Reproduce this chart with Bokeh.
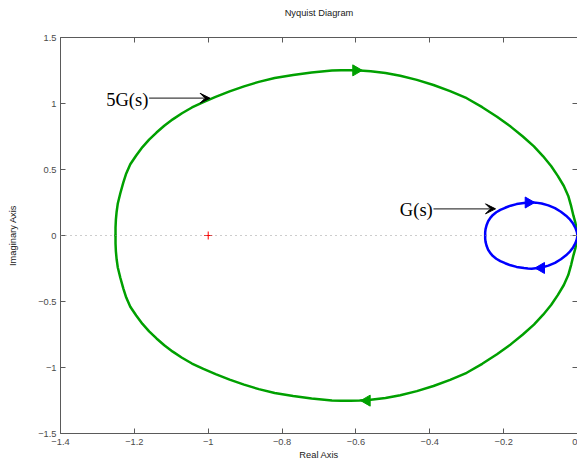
import math
from bokeh.plotting import figure
from bokeh.models import (Range1d, FixedTicker, CustomJSTickFormatter, LinearAxis,
                          Span, Arrow, VeeHead, ColumnDataSource)
from bokeh.embed import file_html
from bokeh.resources import INLINE
from bokeh.core.properties import value

# ---------------- data ----------------
x_ticks = [-1.4, -1.2, -1.0, -0.8, -0.6, -0.4, -0.2, 0.0]
y_ticks = [-1.5, -1.0, -0.5, 0.0, 0.5, 1.0, 1.5]

# 5G(jw) (green): upper branch (origin -> top -> leftmost point)
green_up_re = [0.000, -0.001, -0.003, -0.006, -0.011, -0.017, -0.025, -0.037, -0.053, -0.071,
               -0.093, -0.118, -0.148, -0.181, -0.218, -0.258, -0.300, -0.345, -0.390, -0.435,
               -0.480, -0.520, -0.560, -0.590, -0.615, -0.640, -0.665, -0.720, -0.770, -0.820,
               -0.863, -0.903, -0.942, -0.980, -1.013, -1.044, -1.071, -1.096, -1.119, -1.140,
               -1.160, -1.178, -1.195, -1.211, -1.222, -1.230, -1.238, -1.245, -1.248, -1.250,
               -1.251, -1.251]
green_up_im = [0.000, 0.030, 0.060, 0.100, 0.150, 0.220, 0.300, 0.375, 0.450, 0.525,
               0.600, 0.675, 0.750, 0.825, 0.900, 0.972, 1.040, 1.094, 1.140, 1.179,
               1.210, 1.231, 1.245, 1.250, 1.252, 1.252, 1.250, 1.235, 1.216, 1.193,
               1.164, 1.130, 1.092, 1.050, 1.011, 0.970, 0.926, 0.880, 0.831, 0.780,
               0.726, 0.670, 0.606, 0.540, 0.470, 0.400, 0.320, 0.240, 0.180, 0.120,
               0.060, 0.000]
# lower branch (leftmost point -> bottom -> origin)
green_lo_re = [-1.251, -1.251, -1.250, -1.248, -1.245, -1.238, -1.230, -1.222, -1.211, -1.195,
               -1.178, -1.160, -1.140, -1.119, -1.096, -1.071, -1.044, -1.013, -0.980, -0.942,
               -0.903, -0.863, -0.820, -0.770, -0.720, -0.665, -0.640, -0.615, -0.590, -0.560,
               -0.520, -0.480, -0.435, -0.390, -0.345, -0.300, -0.258, -0.218, -0.181, -0.148,
               -0.118, -0.093, -0.071, -0.053, -0.037, -0.025, -0.017, -0.011, -0.006, -0.003,
               -0.001, 0.000]
green_lo_im = [0.000, -0.060, -0.120, -0.180, -0.240, -0.320, -0.400, -0.470, -0.540, -0.606,
               -0.670, -0.726, -0.780, -0.831, -0.880, -0.926, -0.970, -1.011, -1.050, -1.092,
               -1.130, -1.164, -1.193, -1.216, -1.235, -1.250, -1.252, -1.252, -1.250, -1.245,
               -1.231, -1.210, -1.179, -1.140, -1.094, -1.040, -0.972, -0.900, -0.825, -0.750,
               -0.675, -0.600, -0.525, -0.450, -0.375, -0.300, -0.220, -0.150, -0.100, -0.060,
               -0.030, 0.000]

# G(jw) (blue): upper branch (origin -> top -> leftmost point)
blue_up_re = [0.000, -0.002, -0.006, -0.012, -0.020, -0.031, -0.045, -0.061, -0.079, -0.097,
              -0.113, -0.124, -0.134, -0.145, -0.165, -0.181, -0.196, -0.209, -0.220, -0.229,
              -0.236, -0.242, -0.246, -0.249, -0.250, -0.250]
blue_up_im = [0.000, 0.030, 0.060, 0.090, 0.120, 0.150, 0.180, 0.207, 0.228, 0.242,
              0.249, 0.251, 0.250, 0.247, 0.238, 0.226, 0.210, 0.194, 0.176, 0.156,
              0.134, 0.108, 0.080, 0.048, 0.024, 0.000]
# lower branch (leftmost point -> bottom -> origin)
blue_lo_re = [-0.250, -0.250, -0.249, -0.246, -0.242, -0.236, -0.229, -0.220, -0.209, -0.196,
              -0.181, -0.165, -0.145, -0.134, -0.124, -0.113, -0.097, -0.079, -0.061, -0.045,
              -0.031, -0.020, -0.012, -0.006, -0.002, 0.000]
blue_lo_im = [0.000, -0.024, -0.048, -0.080, -0.108, -0.134, -0.156, -0.176, -0.194, -0.210,
              -0.226, -0.238, -0.247, -0.250, -0.251, -0.249, -0.242, -0.228, -0.207, -0.180,
              -0.150, -0.120, -0.090, -0.060, -0.030, 0.000]

# direction arrowheads along the curves
green_arrow_re = [-0.600, -0.570]
green_arrow_im = [1.251, -1.251]
green_arrow_dir = ["right", "left"]
blue_arrow_re = [-0.133, -0.098]
blue_arrow_im = [0.250, -0.246]
blue_arrow_dir = ["right", "left"]

# critical point
crit_re = [-1.0]
crit_im = [0.0]

# text annotations with pointer arrows
note_text = ["5G(s)", "G(s)"]
note_re = [-1.162, -0.392]
note_im = [1.024, 0.190]
pointer_x0 = [-1.160, -0.390]
pointer_y0 = [1.040, 0.202]
pointer_x1 = [-0.995, -0.222]
pointer_y1 = [1.040, 0.202]

title_text = "Nyquist Diagram"

# ---------------- figure ----------------
FONT = "Liberation Sans"
AX_COLOR = "#5a5a5a"
LBL_COLOR = "#4a4a4a"
GREEN = "#00a000"
BLUE = "#0000ff"

p = figure(width=577, height=464, x_range=Range1d(-1.4, 0.0), y_range=Range1d(-1.5, 1.5),
           output_backend="svg", toolbar_location=None,
           min_border_left=60, min_border_right=0, min_border_top=37, min_border_bottom=31,
           x_axis_label="Real Axis", y_axis_label="Imaginary Axis")
p.xgrid.visible = False
p.ygrid.visible = False
p.outline_line_color = None
p.background_fill_color = "white"
p.border_fill_color = "white"

fmt = CustomJSTickFormatter(code="""
const v = Math.round(tick * 10) / 10;
const s = (Math.abs(v) < 1e-9) ? '0' : v.toString();
return s.replace('-', '\u2212');
""")
blank = CustomJSTickFormatter(code="return '';")


def style_axis(ax, ticks, formatter, labels=True):
    ax.ticker = FixedTicker(ticks=ticks)
    ax.formatter = formatter
    ax.major_tick_in = 5
    ax.major_tick_out = 0
    ax.minor_tick_in = 0
    ax.minor_tick_out = 0
    ax.axis_line_color = AX_COLOR
    ax.axis_line_width = 1
    ax.major_tick_line_color = AX_COLOR
    ax.major_label_text_font = FONT
    ax.major_label_text_font_size = "9.3px" if labels else "0px"
    ax.major_label_text_color = LBL_COLOR
    ax.axis_label_text_font = FONT
    ax.axis_label_text_font_size = "9.3px"
    ax.axis_label_text_font_style = "normal"
    ax.axis_label_text_color = "#202020"


xa = p.xaxis[0]
style_axis(xa, x_ticks, fmt)
xa.major_label_standoff = 5
xa.axis_label_standoff = 2

ya = p.yaxis[0]
style_axis(ya, y_ticks, fmt)
ya.major_label_standoff = 4
ya.axis_label_standoff = 17

# top box edge carries the chart title
top = LinearAxis(axis_label=title_text)
style_axis(top, x_ticks, blank, labels=False)
top.major_label_standoff = 0
top.axis_label_standoff = 20
p.add_layout(top, "above")

right = LinearAxis()
style_axis(right, y_ticks, blank, labels=False)
right.major_label_standoff = 0
right.axis_line_color = None
p.add_layout(right, "right")

# dotted real axis
p.add_layout(Span(location=0, dimension="width", line_color="#9a9a9a",
                  line_dash="1 4", line_width=1))

# curves
for xs, ys, c in [(green_up_re, green_up_im, GREEN), (green_lo_re, green_lo_im, GREEN),
                  (blue_up_re, blue_up_im, BLUE), (blue_lo_re, blue_lo_im, BLUE)]:
    p.line(xs, ys, line_color=c, line_width=2.5, line_join="round", line_cap="round")

ang = {"right": -math.pi / 2, "left": math.pi / 2}
p.scatter(green_arrow_re, green_arrow_im, marker="triangle", size=11,
          angle=[ang[d] for d in green_arrow_dir], fill_color=GREEN, line_color=GREEN)
p.scatter(blue_arrow_re, blue_arrow_im, marker="triangle", size=11,
          angle=[ang[d] for d in blue_arrow_dir], fill_color=BLUE, line_color=BLUE)

# critical point
p.scatter(crit_re, crit_im, marker="cross", size=8, line_color="#ff0000", line_width=1)

# annotations
src = ColumnDataSource(dict(x=note_re, y=note_im, t=note_text))
p.text(x="x", y="y", text="t", source=src, text_font=value("Liberation Serif"),
       text_font_size="18.5px", text_align="right", text_baseline="middle",
       text_color="black")
for i in range(len(note_text)):
    p.add_layout(Arrow(x_start=pointer_x0[i], y_start=pointer_y0[i],
                       x_end=pointer_x1[i], y_end=pointer_y1[i],
                       line_color="#404040", line_width=1.3,
                       end=VeeHead(size=10, fill_color="black", line_color="black",
                                   line_width=1)))

open("out.html", "w").write(file_html(p, INLINE))
